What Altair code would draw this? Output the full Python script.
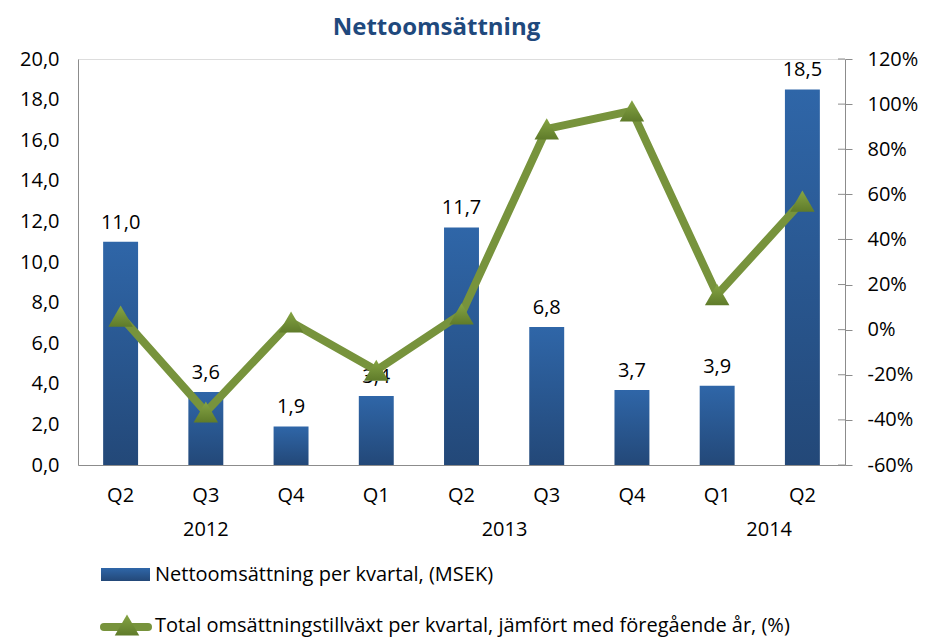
import altair as alt
import pandas as pd

quarters = ["Q2", "Q3", "Q4", "Q1", "Q2", "Q3", "Q4", "Q1", "Q2"]
years = ["2012", "2012", "2012", "2013", "2013", "2013", "2013", "2014", "2014"]
revenue = [11.0, 3.6, 1.9, 3.4, 11.7, 6.8, 3.7, 3.9, 18.5]
growth = [0.06, -0.365, 0.034, -0.18, 0.07, 0.89, 0.97, 0.155, 0.57]
left_ticks = [0, 2, 4, 6, 8, 10, 12, 14, 16, 18, 20]
right_ticks = [-0.6, -0.4, -0.2, 0.0, 0.2, 0.4, 0.6, 0.8, 1.0, 1.2]
year_labels = ["2012", "2013", "2014"]
year_anchor = ["Q3 2012", "Q2 2013", "Q1 2014"]
year_dx = [0, 43, 52]
legend_labels = ["Nettoomsättning per kvartal, (MSEK)",
                 "Total omsättningstillväxt per kvartal, jämfört med föregående år, (%)"]
title_text = "Nettoomsättning"

FONT = "Open Sans"
FS = 20
W, H = 767, 406

cats = [f"{q} {y}" for q, y in zip(quarters, years)]
df = pd.DataFrame({
    "cat": cats,
    "revenue": revenue,
    "growth": growth,
    "label": [f"{v:.1f}".replace(".", ",") for v in revenue],
})

xenc = alt.X("cat:N", sort=cats,
             scale=alt.Scale(paddingInner=0.59, paddingOuter=0.295),
             axis=alt.Axis(title=None, labelAngle=0, ticks=False, domainColor="#8C8C8C",
                           labelExpr="split(datum.label, ' ')[0]", labelPadding=20,
                           labelFontSize=FS, labelColor="#000000", labelFont=FONT))

bar_grad = alt.Gradient(gradient="linear",
                        stops=[alt.GradientStop(color="#2F66A8", offset=0),
                               alt.GradientStop(color="#234878", offset=1)],
                        x1=0, x2=0, y1=0, y2=1)

yleft = alt.Y("revenue:Q",
              scale=alt.Scale(domain=[0, 20], nice=False),
              axis=alt.Axis(title=None, orient="left", values=left_ticks, grid=False,
                            ticks=False, domainColor="#8C8C8C", labelPadding=19,
                            labelExpr="replace(format(datum.value, '.1f'), '.', ',')",
                            labelFontSize=FS, labelColor="#000000", labelFont=FONT))

bars = alt.Chart(df).mark_bar(color=bar_grad).encode(x=xenc, y=yleft)
bar_text = alt.Chart(df).mark_text(baseline="alphabetic", dy=-13, fontSize=FS, font=FONT,
                                   color="#000000").encode(
    x=alt.X("cat:N", sort=cats), y="revenue:Q", text="label:N")
layer_a = alt.layer(bars, bar_text)

yright = alt.Y("growth:Q",
               scale=alt.Scale(domain=[-0.6, 1.2], nice=False),
               axis=alt.Axis(title=None, orient="right", values=right_ticks, grid=False,
                             tickSize=7, tickColor="#8C8C8C", domainColor="#8C8C8C",
                             labelPadding=15,
                             labelExpr="(datum.value < -0.0001 ? '-' : '') + format(abs(datum.value), '.0%')",
                             labelFontSize=FS, labelColor="#000000", labelFont=FONT))

green = "#77933C"
tri_grad = alt.Gradient(gradient="linear",
                        stops=[alt.GradientStop(color="#86A544", offset=0),
                               alt.GradientStop(color="#5F7B2A", offset=1)],
                        x1=0, x2=0, y1=0, y2=1)

line = alt.Chart(df).mark_line(color=green, strokeWidth=8, strokeJoin="miter").encode(
    x=alt.X("cat:N", sort=cats), y=yright)
pts = alt.Chart(df).mark_point(shape="triangle-up", size=600, filled=True, fill=tri_grad,
                               opacity=1, strokeWidth=0).encode(
    x=alt.X("cat:N", sort=cats), y="growth:Q")
tick_df = pd.DataFrame({"growth": right_ticks})
inner_ticks = alt.Chart(tick_df).mark_rule(color="#8C8C8C", strokeWidth=1).encode(
    y="growth:Q", x=alt.value(W - 7), x2=alt.value(W))
layer_b = alt.layer(line, pts, inner_ticks)

year_layers = []
for lab, anc, dx in zip(year_labels, year_anchor, year_dx):
    ydf = pd.DataFrame({"cat": [anc], "year": [lab]})
    year_layers.append(
        alt.Chart(ydf).mark_text(fontSize=FS, font=FONT, color="#000000", baseline="middle",
                                 dx=dx).encode(
            x=alt.X("cat:N", sort=cats), y=alt.value(H + 65), text="year:N"))

leg_df = pd.DataFrame({"a": [0]})
leg_rect = alt.Chart(leg_df).mark_rect(color=bar_grad).encode(
    x=alt.value(23), x2=alt.value(72), y=alt.value(509), y2=alt.value(522))
leg_line = alt.Chart(leg_df).mark_rule(color=green, strokeWidth=8, strokeCap="round").encode(
    x=alt.value(26), x2=alt.value(70), y=alt.value(568))
leg_tri = alt.Chart(leg_df).mark_point(shape="triangle-up", size=600, filled=True,
                                       fill=tri_grad, opacity=1, strokeWidth=0).encode(
    x=alt.value(49), y=alt.value(566))
leg_txt_df = pd.DataFrame({"t": legend_labels, "row": [0, 1]})
leg_txt1 = alt.Chart(leg_txt_df.iloc[[0]]).mark_text(
    align="left", baseline="middle", fontSize=FS, font=FONT, color="#000000").encode(
    x=alt.value(77), y=alt.value(516), text="t:N")
leg_txt2 = alt.Chart(leg_txt_df.iloc[[1]]).mark_text(
    align="left", baseline="middle", fontSize=FS, font=FONT, color="#000000").encode(
    x=alt.value(77), y=alt.value(567), text="t:N")

chart = alt.layer(layer_a, layer_b, *year_layers, leg_rect, leg_line, leg_tri,
                  leg_txt1, leg_txt2).resolve_scale(y="independent").properties(
    width=W, height=H,
    title=alt.TitleParams(title_text, font=FONT, fontSize=24, fontWeight="bold",
                          color="#1F497D", anchor="middle", dx=-25, offset=9),
    autosize=alt.AutoSizeParams(type="none"),
    padding={"left": 70, "top": 51, "right": 75, "bottom": 172},
).configure_view(stroke=None).configure(font=FONT)

chart.save("out.html", embed_options={"renderer": "svg", "actions": False})
